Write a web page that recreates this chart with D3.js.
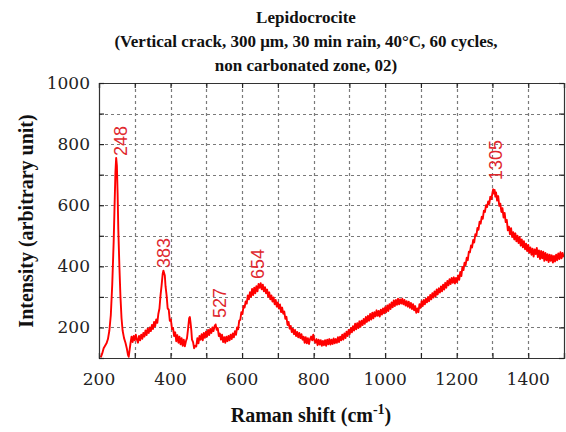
<!DOCTYPE html>
<html><head><meta charset="utf-8">
<script src="https://cdn.jsdelivr.net/npm/d3@7/dist/d3.min.js"></script>
<style>body{margin:0;background:#fff}</style>
</head><body>
<svg id="chart" width="566" height="432"></svg>
<script>
const titleLines = ["Lepidocrocite", "(Vertical crack, 300 \u03bcm, 30 min rain, 40\u00b0C, 60 cycles,", "non carbonated zone, 02)"];
const xTicks = [200, 400, 600, 800, 1000, 1200, 1400];
const yTicks = [200, 400, 600, 800, 1000];
const gridX = [300, 400, 500, 600, 700, 800, 900, 1000, 1100, 1200, 1300, 1400];
const gridY = [200, 300, 400, 500, 600, 700, 800, 900];
const peakLabels = ["248", "383", "527", "654", "1305"];
// [Raman shift (cm-1), intensity]
const spectrum = [[205,102],[209,115],[213,132],[217,140],[221,148],[225,162],[229,190],[233,240],[237,340],[241,480],[244,620],[246,710],[248,755],[250,730],[252,640],[254,520],[257,400],[260,300],[263,230],[266,190],[270,165],[274,150],[278,130],[281,110],[283,104],[285,122],
[288,148],[291,170],[294,152],[297,172],[300,158],[303,176],[306,160],[309,150],[312,172],[315,158],[318,176],[321,163],[324,182],[327,170],[330,190],[333,175],[336,196],[339,182],[342,200],[345,188],[348,208],[351,195],[354,218],[357,204],[360,226],[363,215],[366,245],[369,262],[372,305],[375,338],[378,375],[380,386],[382,378],[384,370],[386,335],[389,305],[392,262],[395,258],[398,222],[401,226],[404,195],[407,198],[410,172],[413,184],[416,155],[419,175],[422,150],[425,170],[428,145],[431,165],[434,140],[437,160],[440,138],[443,155],[446,165],[449,195],[452,230],[454,234],[456,215],[458,192],[460,160],[463,152],[466,132],[469,140],[472,138],[475,165],[478,148],[481,172],[484,160],[487,178],[490,158],[493,182],[496,166],[499,186],
[502,170],[505,192],[508,175],[511,195],[514,182],[517,200],[520,188],[523,204],[526,210],[529,192],[532,198],[535,172],[538,180],[541,160],[544,176],[547,152],[550,168],[553,150],[556,170],[559,155],[562,172],[565,158],[568,176],[571,162],[574,180],[577,168],[580,188],[583,176],[586,200],[589,194],[592,222],[595,225],[598,250],[601,244],[604,270],[607,265],[610,285],[613,278],[616,305],[619,292],[622,315],[625,300],[628,326],[631,306],[634,330],[637,312],[640,335],[643,318],[646,342],[649,330],[652,345],[655,325],[658,340],[661,318],[664,332],[667,312],[670,324],[673,300],[676,315],[679,292],[682,305],[685,285],[688,298],[691,276],[694,290],[697,268],[700,282],
[703,262],[706,275],[709,250],[712,265],[715,245],[718,252],[721,228],[724,235],[727,208],[730,218],[733,196],[736,205],[739,185],[742,196],[745,178],[748,192],[751,172],[754,185],[757,168],[760,182],[763,165],[766,178],[769,160],[772,170],[775,150],[778,168],[781,148],[784,165],[787,146],[790,162],[793,170],[796,158],[799,176],[802,158],[805,150],[808,162],[811,142],[814,160],[817,144],[820,158],[823,140],[826,156],[829,142],[832,158],[835,140],[838,160],[841,145],[844,162],[847,144],[850,160],[853,146],[856,164],[859,148],[862,162],[865,150],[868,168],[871,152],[874,170],[877,158],[880,176],[883,160],[886,180],[889,165],[892,186],[895,172],[898,192],
[901,178],[904,198],[907,184],[910,204],[913,190],[916,212],[919,194],[922,214],[925,198],[928,220],[931,202],[934,222],[937,208],[940,228],[943,212],[946,234],[949,218],[952,238],[955,222],[958,244],[961,226],[964,248],[967,230],[970,250],[973,236],[976,256],[979,238],[982,254],[985,236],[988,258],[991,242],[994,262],[997,246],[1000,266],[1003,250],[1006,272],[1009,254],[1012,276],[1015,260],[1018,282],[1021,266],[1024,288],[1027,270],[1030,290],[1033,274],[1036,294],[1039,276],[1042,292],[1045,278],[1048,294],[1051,276],[1054,290],[1057,272],[1060,286],[1063,268],[1066,284],[1069,264],[1072,280],[1075,260],[1078,276],[1081,256],[1084,270],[1087,248],[1090,262],[1093,250],[1096,276],[1099,264],
[1102,286],[1105,270],[1108,290],[1111,276],[1114,294],[1117,282],[1120,300],[1123,286],[1126,306],[1129,292],[1132,312],[1135,298],[1138,318],[1141,302],[1144,324],[1147,308],[1150,328],[1153,314],[1156,334],[1159,318],[1162,340],[1165,324],[1168,346],[1171,330],[1174,352],[1177,338],[1180,358],[1183,342],[1186,362],[1189,346],[1192,364],[1195,344],[1198,362],[1201,348],[1204,370],[1207,356],[1210,382],[1213,368],[1216,398],[1219,388],[1222,412],[1225,404],[1228,428],[1231,420],[1234,448],[1237,446],[1240,468],[1243,462],[1246,486],[1249,478],[1252,505],[1255,500],[1258,526],[1261,520],[1264,546],[1267,540],[1270,562],[1273,556],[1276,582],[1279,578],[1282,600],[1285,594],[1288,612],[1291,604],[1294,628],[1297,620],[1300,640],
[1302,652],[1304,638],[1306,650],[1308,628],[1310,642],[1313,615],[1316,630],[1319,598],[1322,605],[1325,578],[1328,590],[1331,560],[1334,575],[1337,545],[1340,552],[1343,518],[1346,530],[1349,505],[1352,525],[1355,496],[1358,512],[1361,488],[1364,508],[1367,482],[1370,500],[1373,476],[1376,496],[1379,468],[1382,488],[1385,462],[1388,482],[1391,456],[1394,474],[1397,450],[1400,470],[1403,444],[1406,462],[1409,438],[1412,458],[1415,432],[1418,455],[1421,440],[1424,460],[1427,430],[1430,452],[1433,424],[1436,450],[1439,426],[1442,448],[1445,418],[1448,444],[1451,420],[1454,440],[1457,414],[1460,438],[1463,418],[1466,436],[1469,412],[1472,434],[1475,416],[1478,438],[1481,420],[1484,442],[1487,424],[1490,446],[1493,426],[1496,444],[1499,430]];

const svg = d3.select("#chart");
const m = {left: 99, right: 564, top: 83, bottom: 358};
const x = d3.scaleLinear().domain([200, 1500]).range([m.left, m.right]);
const y = d3.scaleLinear().domain([100, 1000]).range([m.bottom, m.top]);
const serif = "'DejaVu Serif', serif";

// dashed grid
const gridG = svg.append("g");
gridG.selectAll("line.gx").data(gridX).join("line").attr("class", "gx")
  .attr("x1", d => Math.round(x(d)) + 0.5).attr("x2", d => Math.round(x(d)) + 0.5).attr("y1", m.top).attr("y2", m.bottom)
  .attr("stroke", "#7a7a7a").attr("stroke-width", 1.2).attr("stroke-dasharray", "3,3");
gridG.selectAll("line.gy").data(gridY).join("line").attr("class", "gy")
  .attr("x1", m.left).attr("x2", m.right).attr("y1", d => Math.round(y(d)) + 0.5).attr("y2", d => Math.round(y(d)) + 0.5)
  .attr("stroke", "#7a7a7a").attr("stroke-width", 1.2).attr("stroke-dasharray", "3,3");

// spectrum line
svg.append("path").datum(spectrum)
  .attr("d", d3.line().x(d => x(d[0])).y(d => y(Math.max(100, d[1]))))
  .attr("fill", "none").attr("stroke", "#ff0000").attr("stroke-width", 1.9).attr("stroke-linejoin", "round");

// frame with inward ticks
const minorX = d3.range(200, 1501, 100), minorY = d3.range(100, 1001, 100);
const axB = d3.axisBottom(x).tickValues(minorX).tickSize(-5).tickFormat("");
const axT = d3.axisTop(x).tickValues(minorX).tickSize(-5).tickFormat("");
const axL = d3.axisLeft(y).tickValues(minorY).tickSize(-5).tickFormat("");
const axR = d3.axisRight(y).tickValues(minorY).tickSize(-5).tickFormat("");
[[axB, `translate(0,${m.bottom})`], [axT, `translate(0,${m.top})`], [axL, `translate(${m.left},0)`], [axR, `translate(${m.right},0)`]].forEach(([a, t]) => {
  const g = svg.append("g").attr("transform", t).call(a);
  g.selectAll(".domain").attr("stroke", "#333").attr("stroke-width", 1.2);
  g.selectAll(".tick line").attr("stroke", "#222").attr("stroke-width", 1.2);
});
// tick labels
svg.append("g").selectAll("text").data(xTicks).join("text")
  .attr("x", d => x(d)).attr("y", 385).attr("text-anchor", "middle")
  .attr("font-family", serif).attr("font-size", 17).attr("fill", "#222").text(d => d);
svg.append("g").selectAll("text").data(yTicks).join("text")
  .attr("x", 90).attr("y", d => y(d) + 6).attr("text-anchor", "end")
  .attr("font-family", serif).attr("font-size", 17).attr("fill", "#222").text(d => d);

// title
const tY = [23, 47, 71];
svg.append("g").selectAll("text").data(titleLines).join("text")
  .attr("x", 306).attr("y", (d, i) => tY[i]).attr("text-anchor", "middle")
  .attr("font-family", "'Liberation Serif', serif").attr("font-weight", "bold").attr("font-size", 17)
  .attr("fill", "#111").text(d => d);

// axis titles
const xl = svg.append("text").attr("x", 311).attr("y", 422).attr("text-anchor", "middle")
  .attr("font-family", "'Liberation Serif', serif").attr("font-weight", "bold").attr("font-size", 20).attr("fill", "#111");
xl.append("tspan").text("Raman shift (cm");
xl.append("tspan").attr("dy", -8).attr("font-size", 14).text("-1");
xl.append("tspan").attr("dy", 8).text(")");
svg.append("text").attr("transform", "translate(33,221) rotate(-90)").attr("text-anchor", "middle")
  .attr("font-family", "'Liberation Serif', serif").attr("font-weight", "bold").attr("font-size", 20).attr("fill", "#111")
  .text("Intensity (arbitrary unit)");

// peak annotations
const annX = [127, 170, 226, 264, 502];
const annY = [156, 268, 318, 279, 180];
svg.append("g").selectAll("text").data(peakLabels).join("text")
  .attr("transform", (d, i) => `translate(${annX[i]},${annY[i]}) rotate(-90)`)
  .attr("font-family", "'Liberation Sans', sans-serif").attr("font-size", 18).attr("fill", "#e0282e")
  .text(d => d);
</script>
</body></html>
